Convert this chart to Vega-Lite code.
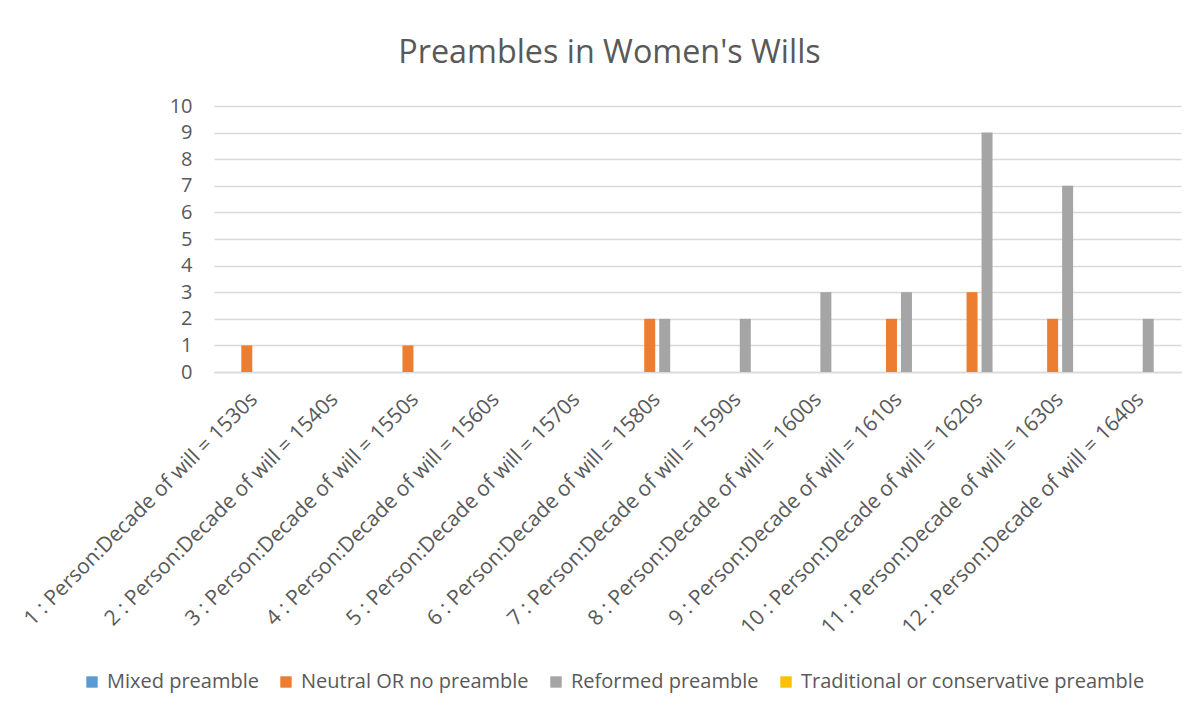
{
  "$schema": "https://vega.github.io/schema/vega-lite/v6.json",
  "autosize": "none",
  "width": 967,
  "height": 266,
  "padding": {"left": 214, "top": 106, "right": 22, "bottom": 342},
  "background": "white",
  "title": {
    "text": "Preambles in Women's Wills",
    "font": "Open Sans",
    "fontSize": 32.3,
    "fontWeight": "normal",
    "color": "#595959",
    "anchor": "middle",
    "dx": -88,
    "offset": 27
  },
  "data": {
    "values": [
      {"category": "1 : Person:Decade of will = 1530s", "series": "Neutral OR no preamble", "count": 1},
      {"category": "3 : Person:Decade of will = 1550s", "series": "Neutral OR no preamble", "count": 1},
      {"category": "6 : Person:Decade of will = 1580s", "series": "Neutral OR no preamble", "count": 2},
      {"category": "6 : Person:Decade of will = 1580s", "series": "Reformed preamble", "count": 2},
      {"category": "7 : Person:Decade of will = 1590s", "series": "Reformed preamble", "count": 2},
      {"category": "8 : Person:Decade of will = 1600s", "series": "Reformed preamble", "count": 3},
      {"category": "9 : Person:Decade of will = 1610s", "series": "Neutral OR no preamble", "count": 2},
      {"category": "9 : Person:Decade of will = 1610s", "series": "Reformed preamble", "count": 3},
      {"category": "10 : Person:Decade of will = 1620s", "series": "Neutral OR no preamble", "count": 3},
      {"category": "10 : Person:Decade of will = 1620s", "series": "Reformed preamble", "count": 9},
      {"category": "11 : Person:Decade of will = 1630s", "series": "Neutral OR no preamble", "count": 2},
      {"category": "11 : Person:Decade of will = 1630s", "series": "Reformed preamble", "count": 7},
      {"category": "12 : Person:Decade of will = 1640s", "series": "Reformed preamble", "count": 2}
    ]
  },
  "mark": {"type": "bar"},
  "encoding": {
    "x": {
      "field": "category",
      "type": "nominal",
      "sort": null,
      "scale": {
        "domain": [
          "1 : Person:Decade of will = 1530s",
          "2 : Person:Decade of will = 1540s",
          "3 : Person:Decade of will = 1550s",
          "4 : Person:Decade of will = 1560s",
          "5 : Person:Decade of will = 1570s",
          "6 : Person:Decade of will = 1580s",
          "7 : Person:Decade of will = 1590s",
          "8 : Person:Decade of will = 1600s",
          "9 : Person:Decade of will = 1610s",
          "10 : Person:Decade of will = 1620s",
          "11 : Person:Decade of will = 1630s",
          "12 : Person:Decade of will = 1640s"
        ],
        "paddingInner": 0,
        "paddingOuter": 0
      },
      "axis": {
        "title": null,
        "labelAngle": -45,
        "labelAlign": "right",
        "labelBaseline": "middle",
        "labelPadding": 24,
        "labelFont": "Open Sans",
        "labelFontSize": 21,
        "labelColor": "#595959",
        "labelLimit": 500,
        "ticks": false,
        "domainColor": "#D9D9D9",
        "domainWidth": 1.3,
        "grid": false
      }
    },
    "xOffset": {
      "field": "series",
      "type": "nominal",
      "scale": {
        "domain": ["Mixed preamble", "Neutral OR no preamble", "Reformed preamble", "Traditional or conservative preamble"],
        "paddingInner": 0.267,
        "paddingOuter": 0.82
      }
    },
    "y": {
      "field": "count",
      "type": "quantitative",
      "scale": {"domain": [0, 10], "nice": false},
      "axis": {
        "title": null,
        "values": [0, 1, 2, 3, 4, 5, 6, 7, 8, 9, 10],
        "labelFont": "Open Sans",
        "labelFontSize": 20,
        "labelColor": "#595959",
        "labelPadding": 22,
        "ticks": false,
        "domain": false,
        "gridColor": "#D9D9D9",
        "gridWidth": 1.3
      }
    },
    "color": {
      "field": "series",
      "type": "nominal",
      "scale": {
        "domain": ["Mixed preamble", "Neutral OR no preamble", "Reformed preamble", "Traditional or conservative preamble"],
        "range": ["#5B9BD5", "#ED7D31", "#A5A5A5", "#FFC000"]
      },
      "legend": {
        "title": null,
        "orient": "none",
        "direction": "horizontal",
        "legendX": -132,
        "legendY": 566,
        "symbolType": "square",
        "symbolSize": 130,
        "symbolStrokeWidth": 0,
        "labelFont": "Open Sans",
        "labelFontSize": 20,
        "labelColor": "#595959",
        "labelLimit": 500,
        "columnPadding": 17,
        "labelOffset": 5
      }
    }
  },
  "config": {"view": {"stroke": null}}
}
